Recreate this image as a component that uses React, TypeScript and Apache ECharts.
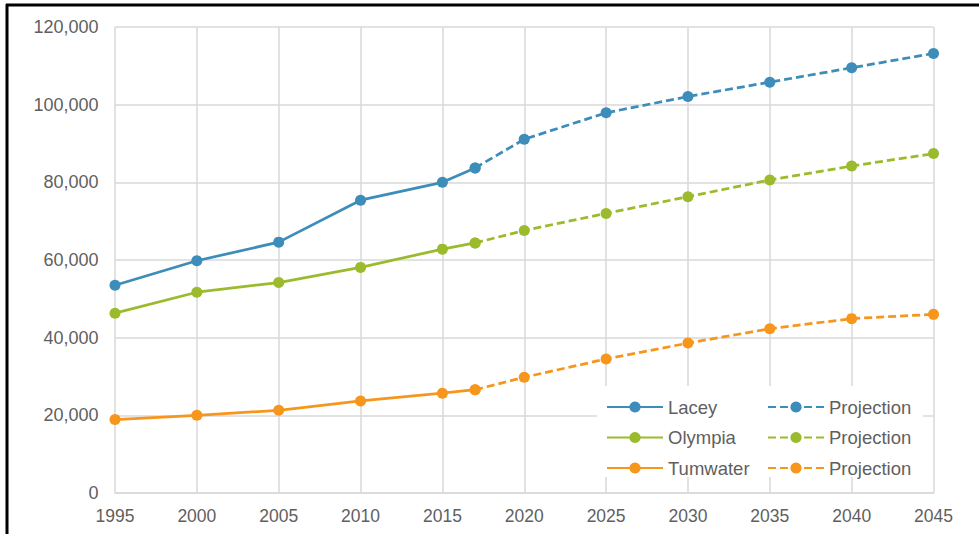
import React, { useEffect, useRef } from "react";
import * as echarts from "echarts";

// Population estimates (1995–2017) and projections (2017–2045)
const historyYears = [1995, 2000, 2005, 2010, 2015, 2017];
const projectionYears = [2017, 2020, 2025, 2030, 2035, 2040, 2045];

const laceyHistory = [53500, 59800, 64600, 75400, 80000, 83700];
const laceyProjection = [83700, 91100, 97900, 102100, 105800, 109500, 113200];

const olympiaHistory = [46300, 51700, 54200, 58100, 62800, 64400];
const olympiaProjection = [64400, 67600, 72000, 76300, 80600, 84200, 87400];

const tumwaterHistory = [18900, 20000, 21300, 23700, 25700, 26600];
const tumwaterProjection = [26600, 29800, 34500, 38600, 42300, 44900, 46000];

const cities = ["Lacey", "Olympia", "Tumwater"];
const cityColors = ["#3d8dbb", "#9cbb2c", "#f7961c"];
const historyValues = [laceyHistory, olympiaHistory, tumwaterHistory];
const projectionValues = [laceyProjection, olympiaProjection, tumwaterProjection];

const FONT = "'Liberation Sans', Arial, Helvetica, sans-serif";
const LABEL_COLOR = "#5f5f5f";
const GRID_COLOR = "#d9d9d9";

const pairs = (xs: number[], ys: number[]) => xs.map((x, i) => [x, ys[i]]);

export default function App() {
  const ref = useRef<HTMLDivElement>(null);

  useEffect(() => {
    if (!ref.current) return;
    const chart = echarts.init(ref.current, undefined, { renderer: "svg" });

    const series: any[] = [];
    cities.forEach((city, i) => {
      const color = cityColors[i];
      series.push({
        name: city,
        type: "line",
        data: pairs(historyYears, historyValues[i]),
        symbol: "circle",
        symbolSize: 11,
        itemStyle: { color },
        lineStyle: { color, width: 2.75 },
        z: 3,
      });
      series.push({
        name: city + " Projection",
        type: "line",
        data: pairs(projectionYears, projectionValues[i]),
        symbol: "circle",
        symbolSize: 11,
        itemStyle: { color },
        lineStyle: { color, width: 2.75, type: [8, 4] },
        z: 3,
      });
    });

    const legendCommon = {
      orient: "vertical" as const,
      top: 397.5,
      padding: 0,
      itemGap: 11.5,
      itemWidth: 56,
      itemHeight: 14,
      selectedMode: false,
      textStyle: { fontFamily: FONT, fontSize: 18.5, color: LABEL_COLOR },
      formatter: (name: string) => (name.endsWith("Projection") ? "Projection" : name),
    };

    chart.setOption({
      animation: false,
      backgroundColor: "#ffffff",
      grid: { left: 115, right: 45.5, top: 27, bottom: 41, containLabel: false },
      xAxis: {
        type: "value",
        min: 1995,
        max: 2045,
        interval: 5,
        axisLine: { show: true, lineStyle: { color: GRID_COLOR, width: 1.5 } },
        axisTick: { show: false },
        splitLine: { show: true, lineStyle: { color: GRID_COLOR, width: 1.5 } },
        axisLabel: {
          margin: 13.5,
          fontFamily: FONT,
          fontSize: 17.5,
          color: LABEL_COLOR,
          formatter: (v: number) => String(v),
        },
      },
      yAxis: {
        type: "value",
        min: 0,
        max: 120000,
        interval: 20000,
        axisLine: { show: false },
        axisTick: { show: false },
        splitLine: { show: true, lineStyle: { color: GRID_COLOR, width: 1.5 } },
        axisLabel: {
          margin: 16.5,
          fontFamily: FONT,
          fontSize: 18,
          color: LABEL_COLOR,
          formatter: (v: number) => v.toLocaleString("en-US"),
        },
      },
      legend: [
        { ...legendCommon, left: 606, data: cities },
        { ...legendCommon, left: 767, data: cities.map((c) => c + " Projection") },
      ],
      graphic: [
        {
          type: "rect",
          z: 3,
          shape: { x: 597, y: 386, width: 326, height: 91 },
          style: { fill: "#ffffff" },
        },
        {
          type: "line",
          z: 10,
          shape: { x1: 6, y1: 5, x2: 979, y2: 5 },
          style: { stroke: "#000000", lineWidth: 3 },
        },
        {
          type: "line",
          z: 10,
          shape: { x1: 7, y1: 4, x2: 7, y2: 534 },
          style: { stroke: "#000000", lineWidth: 3 },
        },
      ],
      series,
    });

    return () => chart.dispose();
  }, []);

  return (
    <div
      ref={ref}
      style={{ position: "absolute", left: 0, top: 0, width: 979, height: 534 }}
    />
  );
}
